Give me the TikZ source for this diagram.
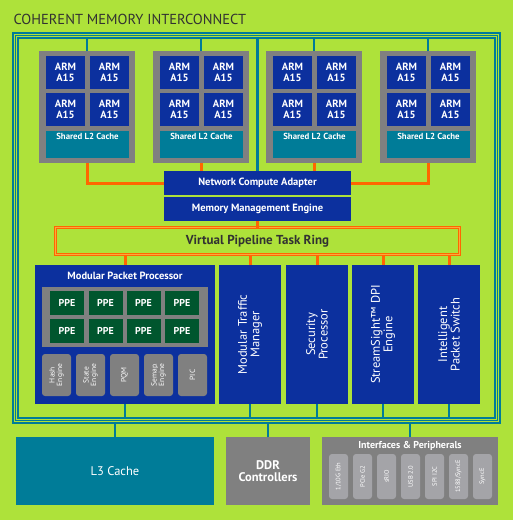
\documentclass[tikz,border=0pt]{standalone}
\usepackage{fontspec}
\setmainfont{PT Sans}
\usetikzlibrary{positioning}

\definecolor{bggreen}{RGB}{174,226,58}
\definecolor{chipblue}{RGB}{12,48,158}
\definecolor{busteal}{RGB}{0,124,152}
\definecolor{boxgray}{RGB}{128,128,128}
\definecolor{pillgray}{RGB}{164,164,168}
\definecolor{ppegreen}{RGB}{0,86,46}
\definecolor{ringorange}{RGB}{255,102,0}
\definecolor{ringlight}{RGB}{250,170,60}
\definecolor{titlegray}{RGB}{50,50,50}

\newcommand{\fsz}[1]{\fontsize{#1}{#1}\selectfont}

\tikzset{
  plain/.style={inner sep=0pt, outer sep=0pt},
  armbox/.style={plain, fill=chipblue, text=white, font=\fsz{10.5}\bfseries,
    minimum width=39pt, minimum height=33pt, align=center},
  clusterbox/.style={plain, fill=boxgray, minimum width=96pt, minimum height=112pt},
  cachebox/.style={plain, fill=busteal, minimum width=83pt, minimum height=27pt},
  bluebar/.style={plain, fill=chipblue, text=white, font=\fsz{10.5}\bfseries,
    minimum width=187pt, minimum height=24pt},
  unitbox/.style={plain, fill=chipblue, minimum width=62pt, minimum height=139pt},
  unittext/.style={rotate=90, text=white, font=\fsz{12.5}, align=center},
  ppebox/.style={plain, fill=ppegreen, text=white, font=\fsz{10}\bfseries,
    minimum width=34pt, minimum height=24pt},
  enginebox/.style={plain, fill=boxgray, rounded corners=3pt,
    minimum width=29pt, minimum height=42pt},
  enginetext/.style={rotate=90, text=white, font=\fsz{7.5}, align=center},
  pillbox/.style={plain, fill=pillgray, rounded corners=3pt,
    minimum width=19pt, minimum height=45pt},
  pilltext/.style={rotate=90, text=white, font=\fsz{6.5}},
  busline/.style={draw=busteal, line width=1.1pt},
  tealwire/.style={draw=busteal, line width=2.5pt},
  orangewire/.style={draw=ringorange, line width=3pt},
}

\begin{document}
\begin{tikzpicture}[x=1pt, y=-1pt]
    \useasboundingbox[fill=bggreen] (0,0) rectangle (513,520);

    % Title
    \node[anchor=west, text=titlegray, font=\fsz{14.5}] (title) at (10,19) {COHERENT MEMORY INTERCONNECT};

    % Interconnect bus (three lines)
    \node[plain, busline, minimum width=487pt, minimum height=390pt] (busout) at (256.5,228) {};
    \node[plain, busline, minimum width=482pt, minimum height=385pt] (busmid) at (256.5,228) {};
    \node[plain, busline, minimum width=477pt, minimum height=380pt] (busin) at (256.5,228) {};

    % CPU clusters
    \foreach \i/\x in {1/39, 2/153, 3/266, 4/380} {
        \node[clusterbox, anchor=north west] (cl\i) at (\x,51) {};
        \node[armbox, anchor=north west] (arm\i a) at (\x+7,56) {ARM\\A15};
        \node[armbox, anchor=north west] (arm\i b) at (\x+51,56) {ARM\\A15};
        \node[armbox, anchor=north west] (arm\i c) at (\x+7,93) {ARM\\A15};
        \node[armbox, anchor=north west] (arm\i d) at (\x+51,93) {ARM\\A15};
        \node[cachebox, anchor=north west] (ltwo\i) at (\x+7,131) {};
        \node[anchor=north, text=white, font=\fsz{8.8}\bfseries, inner sep=2pt] (ltwotxt\i) at (ltwo\i.north) {Shared L2 Cache};
        \draw[tealwire] (cl\i.north) -- (cl\i.north |- busin.north);
    }

    % Adapter and memory engine
    \node[bluebar] (nca) at (257.5,183) {Network Compute Adapter};
    \node[bluebar] (mme) at (257.5,209) {Memory Management Engine};
    \draw[tealwire] (nca.north) -- (nca.north |- busin.north);

    % Orange links clusters -> adapter
    \draw[orangewire] (cl1.south) |- (nca.west);
    \draw[orangewire] (cl4.south) |- (nca.east);
    \draw[orangewire] (cl2.south) -- (cl2.south |- nca.north);
    \draw[orangewire] (cl3.south) -- (cl3.south |- nca.north);

    % Virtual pipeline task ring
    \node[plain, draw=ringorange, line width=1.4pt, double=ringlight, double distance=0.8pt,
          minimum width=404pt, minimum height=27pt, font=\fsz{13}\bfseries, text=titlegray]
          (ring) at (257.5,241) {Virtual Pipeline Task Ring};
    \draw[orangewire] (mme.south) -- (mme.south |- ring.north);

    % Processing units
    \node[unitbox, minimum width=180pt] (mpp) at (125,334.5) {};
    \node[unitbox] (mtm) at (250,334.5) {};
    \node[unitbox] (sec) at (317,334.5) {};
    \node[unitbox] (dpi) at (383,334.5) {};
    \node[unitbox] (ips) at (449,334.5) {};
    \node[unittext] (mtmtxt) at (mtm.center) {Modular Traffic\\Manager};
    \node[unittext] (sectxt) at (sec.center) {Security\\Processor};
    \node[unittext] (dpitxt) at (dpi.center) {StreamSight™ DPI\\Engine};
    \node[unittext] (ipstxt) at (ips.center) {Intelligent\\Packet Switch};

    \foreach \u in {mpp, mtm, sec, dpi, ips} {
        \draw[orangewire] (\u.north) -- (\u.north |- ring.south);
        \draw[tealwire] (\u.south) -- (\u.south |- busin.south);
    }

    % Modular packet processor contents
    \node[text=white, font=\fsz{10.5}\bfseries] (mpptitle) at (125,276) {Modular Packet Processor};
    \node[plain, fill=boxgray, minimum width=166pt, minimum height=60pt] (ppearea) at (125,317) {};
    \foreach \x [count=\k] in {67, 105.5, 143.5, 182} {
        \node[ppebox] (ppe\k a) at (\x,303) {PPE};
        \node[ppebox] (ppe\k b) at (\x,331) {PPE};
    }
    \foreach \x/\t [count=\k] in {56.5/{Hash\\Engine}, 90.5/{State\\Engine}, 124.5/PQM,
                                  158.5/{Semap.\\Engine}, 192.5/PIC} {
        \node[enginebox] (eng\k) at (\x,375) {};
        \node[enginetext] (engtxt\k) at (eng\k.center) {\t};
    }

    % Memory and I/O
    \node[plain, fill=busteal, minimum width=198pt, minimum height=68pt, text=white, font=\fsz{12.5}]
        (lthree) at (115,471) {L3 Cache};
    \node[plain, fill=boxgray, minimum width=84pt, minimum height=68pt, text=white, font=\fsz{12.5}\bfseries, align=center]
        (ddr) at (268,471) {DDR\\Controllers};
    \node[plain, fill=boxgray, minimum width=176pt, minimum height=68pt] (intf) at (410,471) {};
    \node[text=white, font=\fsz{10}\bfseries] (intftitle) at (410,445.5) {Interfaces \& Peripherals};
    \foreach \x/\t [count=\k] in {338.5/{1/10G Eth}, 362.5/{PCIe G2}, 386.5/{sRIO}, 410.5/{USB 2.0},
                                  434.5/{SPI I2C}, 458.5/{1588/SyncE}, 482.5/{SyncE}} {
        \node[pillbox] (pill\k) at (\x,476.5) {};
        \node[pilltext] (pilltxt\k) at (pill\k.center) {\t};
    }

    \draw[tealwire] (lthree.north) -- (lthree.north |- busout.south);
    \draw[tealwire] (ddr.north) -- (ddr.north |- busout.south);
    \draw[tealwire] (intf.north) -- (intf.north |- busout.south);
\end{tikzpicture}
\end{document}
